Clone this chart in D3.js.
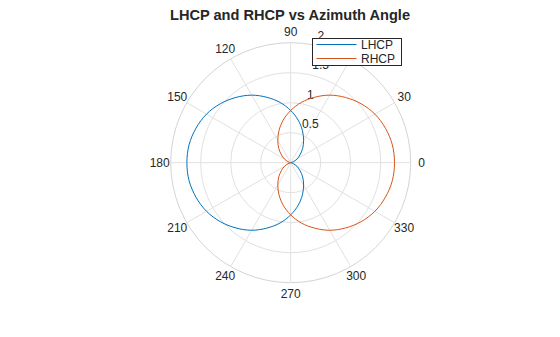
<!DOCTYPE html>
<html lang="en">
<head>
<meta charset="utf-8">
<title>LHCP and RHCP vs Azimuth Angle</title>
<script src="https://d3js.org/d3.v7.min.js"></script>
<style>
  body { margin: 0; background: #fff; }
  svg text { font-family: "Liberation Sans", Arial, Helvetica, sans-serif; fill: #262626; }
</style>
</head>
<body>
<script>
// azimuth angles (deg) sampled every 10 degrees
var angles = d3.range(0, 360, 10);
// values
var lhcp = [0, 0.01, 0.05, 0.12, 0.20, 0.31, 0.43, 0.57, 0.72, 0.87,
            1.02, 1.16, 1.30, 1.42, 1.53, 1.62, 1.68, 1.72, 1.73,
            1.72, 1.68, 1.62, 1.53, 1.42, 1.30, 1.16, 1.02, 0.87,
            0.72, 0.57, 0.43, 0.31, 0.20, 0.12, 0.05, 0.01];
var rhcp = [1.73, 1.72, 1.68, 1.62, 1.53, 1.42, 1.30, 1.16, 1.02, 0.87,
            0.72, 0.57, 0.43, 0.31, 0.20, 0.12, 0.05, 0.01, 0,
            0.01, 0.05, 0.12, 0.20, 0.31, 0.43, 0.57, 0.72, 0.87,
            1.02, 1.16, 1.30, 1.42, 1.53, 1.62, 1.68, 1.72];
var rTicks = [0.5, 1, 1.5, 2];
var thetaTicks = d3.range(0, 360, 30);
var seriesNames = ["LHCP", "RHCP"];
var colors = ["#0072BD", "#D95319"];

var w = 560, h = 337;
var cx = 290.7, cy = 162.7, R = 120;

var svg = d3.select("body").append("svg")
  .attr("width", w).attr("height", h);

var r = d3.scaleLinear().domain([0, 2]).range([0, R]);
var toRad = function(d) { return d * Math.PI / 180; };

var g = svg.append("g").attr("transform", "translate(" + cx + "," + cy + ")");

// rings
g.selectAll(".ring").data(rTicks).enter().append("circle")
  .attr("r", function(d) { return r(d); })
  .attr("fill", "none")
  .attr("stroke", function(d) { return d == 2 ? "#d4d4d4" : "#e1e1e1"; })
  .attr("stroke-width", 1);

// spokes
g.selectAll(".spoke").data(thetaTicks).enter().append("line")
  .attr("x1", 0).attr("y1", 0)
  .attr("x2", function(d) { return R * Math.cos(toRad(d)); })
  .attr("y2", function(d) { return -R * Math.sin(toRad(d)); })
  .attr("stroke", "#e1e1e1")
  .attr("stroke-width", 1);

// angle labels
g.selectAll(".tlab").data(thetaTicks).enter().append("text")
  .attr("x", function(d) { return 131 * Math.cos(toRad(d)); })
  .attr("y", function(d) { return -131 * Math.sin(toRad(d)); })
  .attr("text-anchor", "middle")
  .attr("dominant-baseline", "central")
  .attr("font-size", "12px")
  .text(function(d) { return d; });

// radial labels at 80 deg
g.selectAll(".rlab").data(rTicks).enter().append("text")
  .attr("x", function(d) { return r(d) * Math.cos(toRad(80)) + 6; })
  .attr("y", function(d) { return -r(d) * Math.sin(toRad(80)) - 9; })
  .attr("dominant-baseline", "central")
  .attr("font-size", "12px")
  .text(function(d) { return d; });

// curves
var line = d3.lineRadial()
  .angle(function(d) { return Math.PI / 2 - toRad(d[0]); })
  .radius(function(d) { return r(d[1]); })
  .curve(d3.curveCatmullRomClosed.alpha(0.5));

[lhcp, rhcp].forEach(function(vals, i) {
  g.append("path")
    .datum(angles.map(function(a, j) { return [a, vals[j]]; }))
    .attr("d", line)
    .attr("fill", "none")
    .attr("stroke", colors[i])
    .attr("stroke-width", 1);
});

// title
svg.append("text")
  .attr("x", cx - 0.7).attr("y", 19.5)
  .attr("text-anchor", "middle")
  .attr("font-size", "14.6px")
  .attr("font-weight", "bold")
  .text("LHCP and RHCP vs Azimuth Angle");

// legend
var lg = svg.append("g").attr("transform", "translate(312.5,38.5)");
lg.append("rect")
  .attr("width", 89).attr("height", 27)
  .attr("fill", "#fff").attr("stroke", "#262626").attr("stroke-width", 1);
seriesNames.forEach(function(n, i) {
  var y = 6 + i * 14;
  lg.append("line")
    .attr("x1", 4).attr("x2", 44).attr("y1", y).attr("y2", y)
    .attr("stroke", colors[i]).attr("stroke-width", 1);
  lg.append("text")
    .attr("x", 48.5).attr("y", y + 0.5)
    .attr("dominant-baseline", "central")
    .attr("font-size", "12px")
    .text(n);
});
</script>
</body>
</html>
